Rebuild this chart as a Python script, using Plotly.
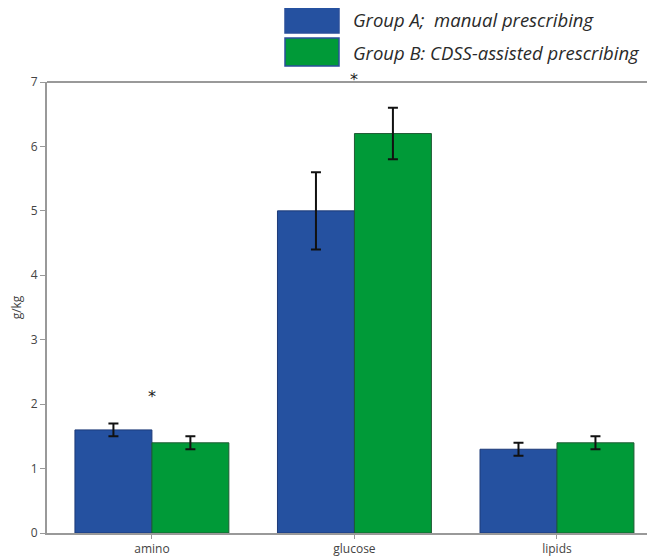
import plotly.graph_objects as go

categories = ["amino", "glucose", "lipids"]
group_a_name = "Group A;  manual prescribing"
group_b_name = "Group B: CDSS-assisted prescribing"
group_a_values = [1.6, 5.0, 1.3]
group_a_errors = [0.1, 0.6, 0.1]
group_b_values = [1.4, 6.2, 1.4]
group_b_errors = [0.1, 0.4, 0.1]
sig_categories = ["amino", "glucose"]
sig_heights = [2.12, 7.0]
y_ticks = [0, 1, 2, 3, 4, 5, 6, 7]

blue = "#2551A0"
green = "#009A38"

# page body has an 8px margin; compensate so the plot lands where the reference has it
OFF = 8
W, H = 655 - OFF, 559 - OFF
L, R, T, B = 47 - OFF, 0, 82 - OFF, 26
pw, ph = W - L - R, H - T - B

fig = go.Figure()
fig.add_trace(go.Bar(
    x=categories, y=group_a_values, name=group_a_name,
    marker=dict(color=blue, line=dict(color="#1d3a78", width=1)),
    error_y=dict(type="data", array=group_a_errors, color="#111111", thickness=2, width=5),
))
fig.add_trace(go.Bar(
    x=categories, y=group_b_values, name=group_b_name,
    marker=dict(color=green, line=dict(color="#1f5a34", width=1)),
    error_y=dict(type="data", array=group_b_errors, color="#111111", thickness=2, width=5),
))

for c, h in zip(sig_categories, sig_heights):
    fig.add_annotation(x=c, y=h, xref="x", yref="y", text="*", showarrow=False,
                       font=dict(size=16, color="#222222", family="DejaVu Sans"),
                       yanchor="middle", yshift=3 if h >= 7 else 0)


def px2paper(x, y):
    # x, y in reference-screen pixels
    x -= OFF
    y -= OFF
    return (x - L) / pw, (H - B - y) / ph


# manual legend
for i, (name, col) in enumerate([(group_a_name, blue), (group_b_name, green)]):
    y0, y1 = (6, 33) if i == 0 else (38, 66)
    x0p, y0p = px2paper(285, y1)
    x1p, y1p = px2paper(339, y0)
    fig.add_shape(type="rect", xref="paper", yref="paper", x0=x0p, x1=x1p, y0=y0p, y1=y1p,
                  fillcolor=col, line=dict(color="#2a4f9a", width=1.5))
    tx, ty = px2paper(351, (y0 + y1) / 2)
    fig.add_annotation(x=tx, y=ty, xref="paper", yref="paper", text="<i>" + name + "</i>",
                       showarrow=False, xanchor="left", yanchor="middle",
                       font=dict(size=18.5, color="#2a2a2a", family="Open Sans"))

fig.update_layout(
    width=W, height=H,
    margin=dict(l=L, r=R, t=T, b=B, autoexpand=False),
    paper_bgcolor="white", plot_bgcolor="white",
    barmode="group", bargap=0.24, bargroupgap=0,
    showlegend=False,
    font=dict(family="Open Sans", color="#444444", size=11),
)
fig.update_xaxes(range=[-0.518, 2.484], showline=True, linecolor="#999999", linewidth=2,
                 ticks="outside", ticklen=4, tickcolor="#999999", showgrid=False,
                 tickfont=dict(size=12, color="#444444"), mirror=False)
fig.update_yaxes(range=[0, 7], tickvals=y_ticks, showline=True, linecolor="#999999", linewidth=2,
                 ticks="outside", ticklen=5, tickcolor="#999999", showgrid=False, zeroline=False,
                 tickfont=dict(size=12, color="#444444"),
                 title=dict(text="g/kg", font=dict(size=12, color="#444444"), standoff=10))
# top spine
fig.add_shape(type="line", xref="paper", yref="paper", x0=0, x1=1, y0=1, y1=1,
              line=dict(color="#999999", width=2))

fig.write_html("out.html")
